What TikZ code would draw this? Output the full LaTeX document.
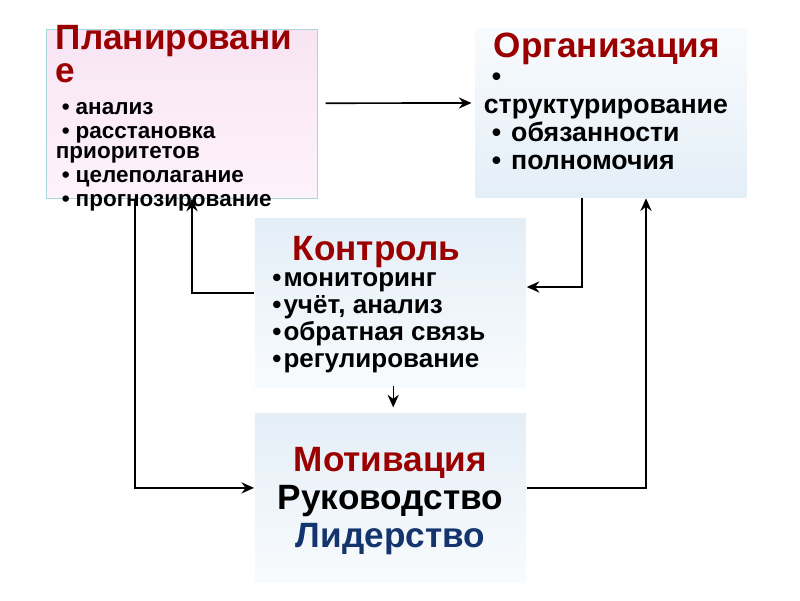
\documentclass[tikz,border=0pt]{standalone}
\usepackage{fontspec}
\setmainfont{Liberation Sans}
\usepackage{xcolor}
\usetikzlibrary{positioning,arrows.meta}

\definecolor{headred}{RGB}{155,0,0}
\definecolor{leadblue}{RGB}{20,52,110}
\definecolor{planline}{RGB}{170,215,222}
\definecolor{plantop}{RGB}{248,228,244}
\definecolor{planbot}{RGB}{253,243,251}
\definecolor{bluelight}{RGB}{248,251,253}
\definecolor{bluedark}{RGB}{228,238,247}

\begin{document}
\begin{tikzpicture}[>={Stealth[length=9pt,width=8pt,inset=3pt]},line width=1.2pt]
	\tikzset{box/.style={minimum width=6.775cm,minimum height=4.225cm,inner sep=0pt}}
	\tikzset{head/.style={inner sep=0pt,align=left,anchor=north west,text=headred,font=\bfseries\fontsize{25}{23.5}\selectfont}}
	\tikzset{txt/.style={inner sep=0pt,align=left,anchor=north west,font=\bfseries\fontsize{16}{14.6}\selectfont}}
	\useasboundingbox (0,0) rectangle (20,15);

	%% Boxes
	\node[box,draw=planline,line width=0.8pt,top color=plantop,bottom color=planbot] (plan) at (4.56,12.16) {};
	\node[box,top color=bluelight,bottom color=bluedark] (org) at (15.275,12.175) {};
	\node[box,top color=bluedark,bottom color=bluelight] (ctrl) at (9.76,7.425) {};
	\node[box,top color=bluedark,bottom color=bluelight] (motiv) at (9.76,2.5625) {};

	%% Connectors
	\draw[->] ([shift={(0.18,0.26)}]plan.east) -- ([shift={(-0.08,0.25)}]org.west);
	\draw[->] ([xshift=-0.725cm]org.south) |- ([yshift=0.4cm]ctrl.east);
	\draw[->] ([yshift=0.24cm]motiv.east) -| ([xshift=0.875cm]org.south);
	\draw[->] ([yshift=0.25cm]ctrl.west) -| ([xshift=0.24cm]plan.south);
	\draw[->] ([xshift=-1.19cm]plan.south) |- ([yshift=0.24cm]motiv.west);
	\draw[->,line width=0.8pt,shorten >=0.12cm] ([shift={(0.07,0.05)}]ctrl.south) -- ([xshift=0.07cm]motiv.north);

	%% Texts
	\node[head] (plantitle) at (1.375,14.38) {Планировани\\е};
	\node[txt] (planlist) at (1.375,12.47) {\hspace*{0.15cm}•\hspace{0.15cm}анализ\\[2.5pt]
		\hspace*{0.15cm}•\hspace{0.15cm}расстановка\\приоритетов\\[2.5pt]
		\hspace*{0.15cm}•\hspace{0.15cm}целеполагание\\[2.5pt]
		\hspace*{0.15cm}•\hspace{0.15cm}прогнозирование};
	\node[head] (orgtitle) at (12.325,14.2) {Организация};
	\node[txt,font=\bfseries\fontsize{19}{20}\selectfont] (orglist) at (12.075,13.2) {\hspace*{0.2cm}•\\структурирование\\
		\hspace*{0.2cm}•\hspace{0.25cm}обязанности\\
		\hspace*{0.2cm}•\hspace{0.25cm}полномочия};
	\node[head] (ctrltitle) at (7.3,9.12) {Контроль};
	\node[txt,font=\bfseries\fontsize{18.5}{19.2}\selectfont] (ctrllist) at (6.79,8.2) {•\hspace{0.05cm}мониторинг\\•\hspace{0.05cm}учёт, анализ\\•\hspace{0.05cm}обратная связь\\•\hspace{0.05cm}регулирование};
	\node[align=center,inner sep=0pt,font=\bfseries\fontsize{25}{27}\selectfont] (motivtext) at ([yshift=-0.1cm]motiv.center)
		{\textcolor{headred}{Мотивация}\\Руководство\\\textcolor{leadblue}{Лидерство}};
\end{tikzpicture}
\end{document}
